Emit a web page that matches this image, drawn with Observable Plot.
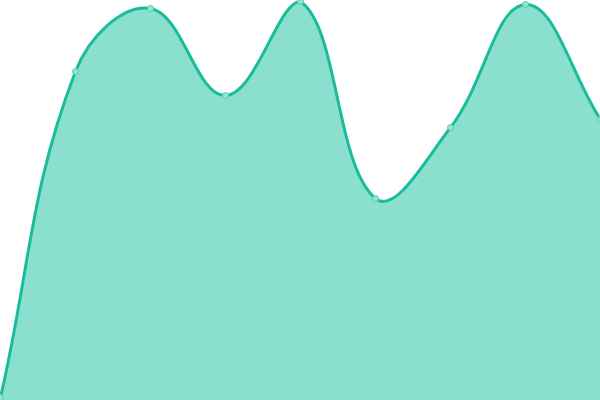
<!DOCTYPE html>
<html><head><meta charset="utf-8">
<script src="https://cdn.jsdelivr.net/npm/d3@7"></script>
<script src="https://cdn.jsdelivr.net/npm/@observablehq/plot@0.6"></script>
<style>html,body{margin:0;padding:0;background:#fff;overflow:hidden}</style>
</head><body><div id="chart"></div>
<script>
const labels = [0, 1, 2, 3, 4, 5, 6, 7, 8];
const values = [3, 329, 392, 305, 399, 202, 273, 396, 281];
const data = labels.map((l, i) => ({x: l, y: values[i]}));

// Tension-based spline (like a chart with tension 0.4 and capped control points)
function makeCurve(t, W, H) {
  function C(context) { this._context = context; }
  C.prototype = {
    areaStart() { this._line = 0; },
    areaEnd() { this._line = NaN; },
    lineStart() { this._x = []; this._y = []; },
    point(x, y) { this._x.push(+x); this._y.push(+y); },
    lineEnd() {
      const x = this._x, y = this._y, n = x.length, c = this._context;
      if (n) {
        this._line ? c.lineTo(x[0], y[0]) : c.moveTo(x[0], y[0]);
        if (n === 2) c.lineTo(x[1], y[1]);
        else if (n > 2) {
          const cpPrev = [], cpNext = [];
          const cap = (v, lo, hi) => Math.max(Math.min(v, hi), lo);
          for (let i = 0; i < n; i++) {
            const pi = Math.max(i - 1, 0), ni = Math.min(i + 1, n - 1);
            const d01 = Math.hypot(x[i] - x[pi], y[i] - y[pi]);
            const d12 = Math.hypot(x[ni] - x[i], y[ni] - y[i]);
            let s01 = d01 / (d01 + d12), s12 = d12 / (d01 + d12);
            if (isNaN(s01)) s01 = 0; if (isNaN(s12)) s12 = 0;
            const fa = t * s01, fb = t * s12;
            const dx = x[ni] - x[pi], dy = y[ni] - y[pi];
            cpPrev[i] = [cap(x[i] - fa * dx, 0, W), cap(y[i] - fa * dy, 0, H)];
            cpNext[i] = [cap(x[i] + fb * dx, 0, W), cap(y[i] + fb * dy, 0, H)];
          }
          for (let i = 0; i < n - 1; i++) {
            c.bezierCurveTo(cpNext[i][0], cpNext[i][1], cpPrev[i + 1][0], cpPrev[i + 1][1], x[i + 1], y[i + 1]);
          }
        }
      }
      if (this._line || (this._line !== 0 && n === 1)) c.closePath();
      this._line = 1 - this._line;
      this._x = this._y = null;
    }
  };
  return (context) => new C(context);
}
const curve = makeCurve(0.4, 600, 400);

const chart = Plot.plot({
  width: 600, height: 400,
  margin: 0,
  x: {domain: [0, 8], axis: null},
  y: {domain: [0, 400], axis: null},
  marks: [
    Plot.areaY(data, {x: "x", y: "y", curve, fill: "#8adfcf"}),
    Plot.line(data, {x: "x", y: "y", curve, stroke: "#1abc9c", strokeWidth: 3}),
    Plot.dot(data, {x: "x", y: "y", r: 3, fill: "#95e3d4", stroke: "#52cdb1", strokeWidth: 1})
  ]
});
document.getElementById("chart").append(chart);
</script></body></html>
